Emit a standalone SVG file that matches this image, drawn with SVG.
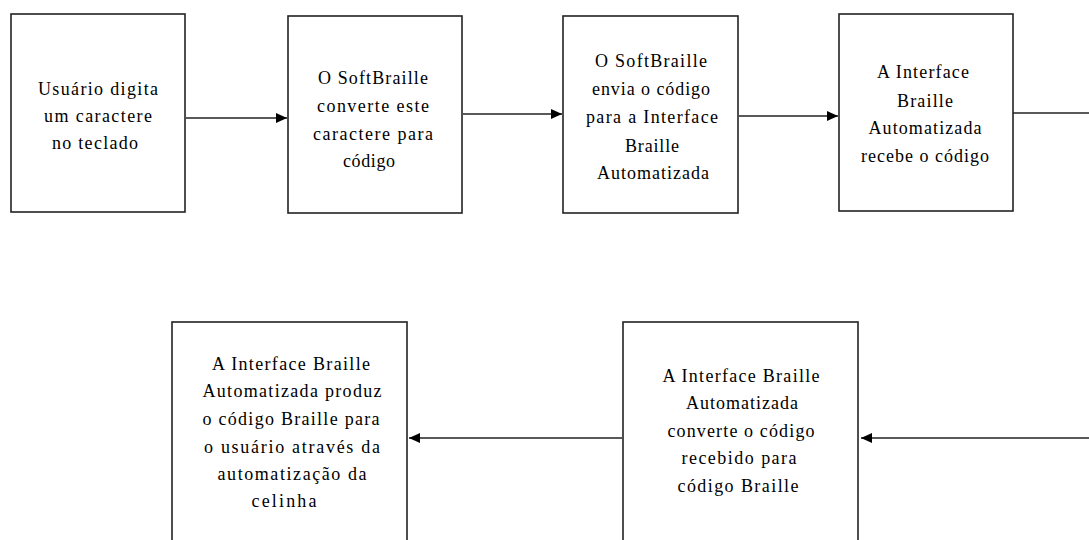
<svg xmlns="http://www.w3.org/2000/svg" width="1089" height="540" viewBox="0 0 1089 540">
<style>
.box{fill:#fff;stroke:#222;stroke-width:1.6}
.lbl{font-family:"Liberation Serif",serif;font-size:18px;fill:#000;text-anchor:middle}
.con{stroke:#222;stroke-width:1.6;fill:none}
</style>
<defs>
<marker id="ah" viewBox="0 0 10 10" refX="10" refY="5" markerWidth="11" markerHeight="11" markerUnits="userSpaceOnUse" orient="auto">
<path d="M0,0.5 L10,5 L0,9.5 Z" fill="#000"/>
</marker>
</defs>
<rect width="1089" height="540" fill="#fff"/>
<g id="connectors">
<line class="con" x1="186" y1="118" x2="287" y2="118" marker-end="url(#ah)"/>
<line class="con" x1="463" y1="114" x2="562" y2="114" marker-end="url(#ah)"/>
<line class="con" x1="739" y1="116" x2="838" y2="116" marker-end="url(#ah)"/>
<line class="con" x1="1013" y1="113" x2="1089" y2="113"/>
<line class="con" x1="1089" y1="438" x2="861" y2="438" marker-end="url(#ah)"/>
<line class="con" x1="622" y1="438" x2="409" y2="438" marker-end="url(#ah)"/>
</g>
<g id="n1">
<rect class="box" x="11" y="14" width="174" height="198"/>
<text class="lbl" x="98" y="95" textLength="120" lengthAdjust="spacing">Usuário digita</text>
<text class="lbl" x="98" y="122" textLength="108" lengthAdjust="spacing">um caractere</text>
<text class="lbl" x="95" y="149" textLength="86" lengthAdjust="spacing">no teclado</text>
</g>
<g id="n2">
<rect class="box" x="288" y="16" width="174" height="197"/>
<text class="lbl" x="373" y="84" textLength="110" lengthAdjust="spacing">O SoftBraille</text>
<text class="lbl" x="373" y="112" textLength="112" lengthAdjust="spacing">converte este</text>
<text class="lbl" x="373" y="140" textLength="120" lengthAdjust="spacing">caractere para</text>
<text class="lbl" x="369" y="167" textLength="52" lengthAdjust="spacing">código</text>
</g>
<g id="n3">
<rect class="box" x="563" y="16" width="175" height="197"/>
<text class="lbl" x="651" y="67" textLength="112" lengthAdjust="spacing">O SoftBraille</text>
<text class="lbl" x="651" y="95" textLength="118" lengthAdjust="spacing">envia o código</text>
<text class="lbl" x="652" y="123" textLength="132" lengthAdjust="spacing">para a Interface</text>
<text class="lbl" x="652" y="152" textLength="54" lengthAdjust="spacing">Braille</text>
<text class="lbl" x="653" y="179" textLength="112" lengthAdjust="spacing">Automatizada</text>
</g>
<g id="n4">
<rect class="box" x="839" y="14" width="174" height="197"/>
<text class="lbl" x="923" y="78" textLength="92" lengthAdjust="spacing">A Interface</text>
<text class="lbl" x="925" y="107" textLength="56" lengthAdjust="spacing">Braille</text>
<text class="lbl" x="925" y="134" textLength="113" lengthAdjust="spacing">Automatizada</text>
<text class="lbl" x="925" y="162" textLength="128" lengthAdjust="spacing">recebe o código</text>
</g>
<g id="n5">
<rect class="box" x="172" y="322" width="235" height="230"/>
<text class="lbl" x="291" y="370" textLength="158" lengthAdjust="spacing">A Interface Braille</text>
<text class="lbl" x="292" y="397" textLength="179" lengthAdjust="spacing">Automatizada produz</text>
<text class="lbl" x="291" y="425" textLength="177" lengthAdjust="spacing">o código Braille para</text>
<text class="lbl" x="292" y="453" textLength="176" lengthAdjust="spacing">o usuário através da</text>
<text class="lbl" x="292" y="480" textLength="149" lengthAdjust="spacing">automatização da</text>
<text class="lbl" x="284" y="507" textLength="65" lengthAdjust="spacing">celinha</text>
</g>
<g id="n6">
<rect class="box" x="623" y="322" width="235" height="230"/>
<text class="lbl" x="741" y="382" textLength="157" lengthAdjust="spacing">A Interface Braille</text>
<text class="lbl" x="742" y="409" textLength="112" lengthAdjust="spacing">Automatizada</text>
<text class="lbl" x="741" y="437" textLength="147" lengthAdjust="spacing">converte o código</text>
<text class="lbl" x="739" y="464" textLength="115" lengthAdjust="spacing">recebido para</text>
<text class="lbl" x="738" y="492" textLength="121" lengthAdjust="spacing">código  Braille</text>
</g>
</svg>
